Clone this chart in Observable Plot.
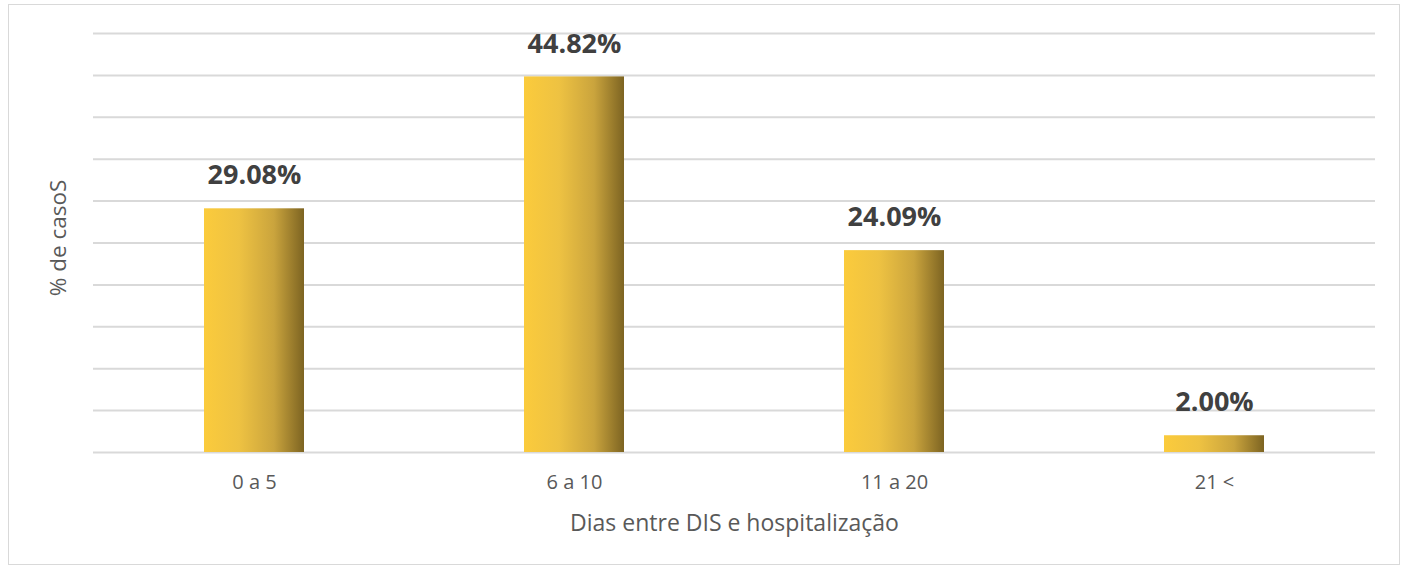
<!DOCTYPE html>
<html>
<head>
<meta charset="utf-8">
<script src="https://cdn.jsdelivr.net/npm/d3@7"></script>
<script src="https://cdn.jsdelivr.net/npm/@observablehq/plot@0.6"></script>
<style>
  html, body { margin: 0; padding: 0; background: #fff; }
  #wrap { position: relative; width: 1407px; height: 569px; overflow: hidden; }
  #frame { position: absolute; left: 8px; top: 4px; width: 1392px; height: 561px; border: 1px solid #d9d9d9; box-sizing: border-box; pointer-events: none; }
  #chart { position: absolute; left: 0; top: 0; }
</style>
</head>
<body>
<div id="wrap"><div id="chart"></div><div id="frame"></div></div>
<script>
const categories = ["0 a 5", "6 a 10", "11 a 20", "21 <"];
const values = [29.08, 44.82, 24.09, 2.00];
const valueLabels = ["29.08%", "44.82%", "24.09%", "2.00%"];
const gridTicks = [0, 5, 10, 15, 20, 25, 30, 35, 40, 45, 50];
const xTitle = "Dias entre DIS e hospitalização";
const yTitle = "% de casoS";

const data = categories.map((c, i) => ({cat: c, value: values[i], label: valueLabels[i]}));

const font = "'Open Sans', 'Liberation Sans', sans-serif";

function gradientDefs() {
  const defs = d3.create("svg:defs");
  const g = defs.append("linearGradient").attr("id", "barGrad").attr("x1", "0%").attr("x2", "100%").attr("y1", "0%").attr("y2", "0%");
  [["0%", "#fbcb3c"], ["35%", "#eec242"], ["70%", "#caa43d"], ["100%", "#7d6422"]].forEach(([o, c]) =>
    g.append("stop").attr("offset", o).attr("stop-color", c));
  return defs.node();
}

const chart = Plot.plot({
  width: 1407,
  height: 569,
  marginLeft: 93,
  marginRight: 32,
  marginTop: 33,
  marginBottom: 117,
  style: {fontFamily: font, background: "transparent"},
  x: {domain: categories, paddingInner: 0.6875, paddingOuter: 0.34375, label: null},
  y: {domain: [0, 50], axis: null},
  marks: [
    gradientDefs,
    Plot.ruleY(gridTicks, {stroke: "#d9d9d9", strokeWidth: 2}),
    Plot.barY(data, {x: "cat", y: "value", fill: "url(#barGrad)"}),
    Plot.text(data, {x: "cat", y: "value", text: "label", dy: -33, lineAnchor: "middle", fontSize: 27, fontWeight: "bold", fill: "#404040"}),
    Plot.axisX({tickSize: 0, tickPadding: 22, fontSize: 20, color: "#595959", label: null}),
    Plot.text([xTitle], {frameAnchor: "bottom", dy: 71, lineAnchor: "middle", fontSize: 23, fill: "#595959"}),
    Plot.text([yTitle], {frameAnchor: "left", dx: -35, dy: -5, rotate: -90, textAnchor: "middle", lineAnchor: "middle", fontSize: 22.5, fill: "#595959"})
  ]
});
document.getElementById("chart").appendChild(chart);
</script>
</body>
</html>
